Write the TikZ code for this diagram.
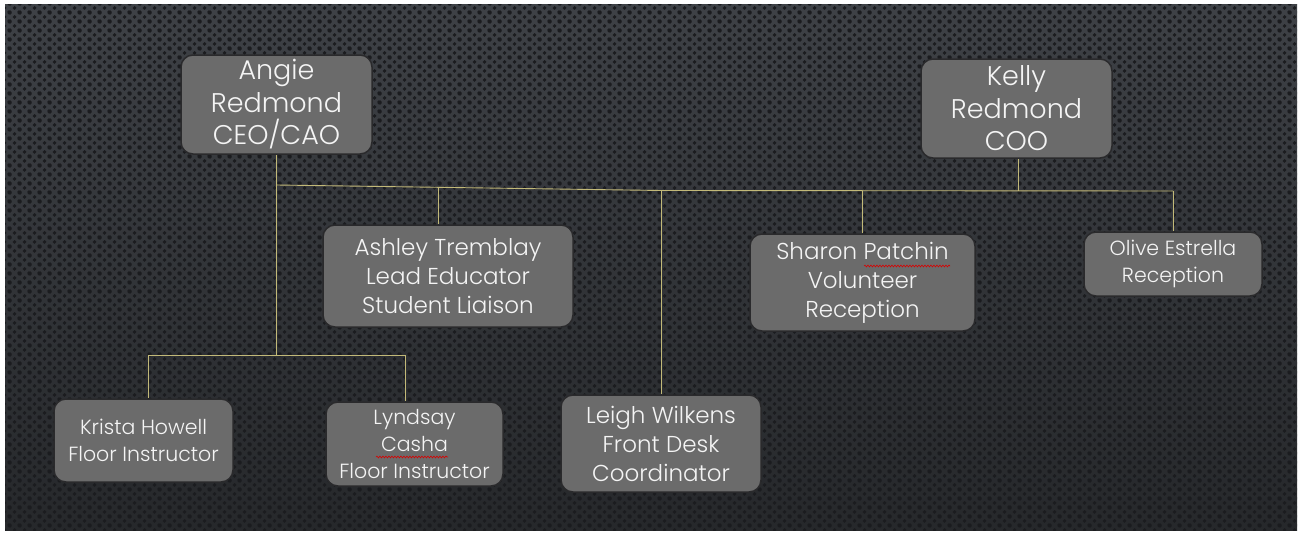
\documentclass[tikz,border=0pt]{standalone}
\usepackage{fontspec}
\setmainfont{Poppins}[UprightFont={* Light}]
\usetikzlibrary{patterns.meta,decorations.pathmorphing}

\definecolor{bgtop}{HTML}{3E4146}
\definecolor{bgbot}{HTML}{26282B}
\definecolor{bgdot}{HTML}{1B1C1F}
\definecolor{boxfill}{HTML}{6B6B6B}
\definecolor{boxline}{HTML}{2A2A2C}
\definecolor{conn}{HTML}{C2B978}
\definecolor{txt}{HTML}{F4F4F4}

\tikzdeclarepattern{
  name=holes,
  type=uncolored,
  bounding box={(0pt,0pt) and (10pt,9pt)},
  tile size={(10pt,9pt)},
  code={
    \fill (0pt,0pt) circle (2.1pt);
    \fill (10pt,0pt) circle (2.1pt);
    \fill (0pt,9pt) circle (2.1pt);
    \fill (10pt,9pt) circle (2.1pt);
    \fill (5pt,4.5pt) circle (2.1pt);
  }
}

\tikzset{
  orgbox/.style={rounded corners=12pt, fill=boxfill, draw=boxline, line width=1.5pt,
    text=txt, align=center, inner sep=0pt},
  bigtext/.style={font=\fontsize{27}{32.5}\selectfont},
  midtext/.style={font=\fontsize{23}{29}\selectfont},
  smalltext/.style={font=\fontsize{20.5}{27}\selectfont},
  link/.style={draw=conn, line width=0.9pt},
  squig/.style={draw=red!85!black, line width=0.6pt, decorate,
    decoration={snake, amplitude=0.9pt, segment length=3pt}}
}

\begin{document}
\begin{tikzpicture}[x=1pt,y=-1pt]
  % page and background
  \fill[white] (0,0) rectangle (1301,533);
  \useasboundingbox (0,0) rectangle (1301,533);
  \shade[top color=bgtop, bottom color=bgbot] (5,4) rectangle (1297,530);
  \fill[pattern=holes, pattern color=bgdot] (5,4) rectangle (1297,530);

  % boxes
  \node[orgbox, bigtext, minimum width=191pt, minimum height=99pt] (angie) at (276.5,104.5) {Angie\\Redmond\\CEO/CAO};
  \node[orgbox, bigtext, minimum width=191pt, minimum height=99pt] (kelly) at (1016.5,108.5) {Kelly\\Redmond\\COO};
  \node[orgbox, midtext, minimum width=250pt, minimum height=102pt] (ashley) at (448,276) {Ashley Tremblay\\Lead Educator\\Student Liaison};
  \node[orgbox, midtext, minimum width=225pt, minimum height=97pt] (sharon) at (862.5,282.5) {Sharon Patchin\\Volunteer\\Reception};
  \node[orgbox, smalltext, minimum width=178pt, minimum height=64pt] (olive) at (1173,264) {Olive Estrella\\Reception};
  \node[orgbox, smalltext, minimum width=179pt, minimum height=83pt] (krista) at (143.5,440.5) {Krista Howell\\Floor Instructor};
  \node[orgbox, smalltext, minimum width=177pt, minimum height=84pt] (lyndsay) at (414.5,444) {Lyndsay\\Casha\\Floor Instructor};
  \node[orgbox, midtext, minimum width=200pt, minimum height=97pt] (leigh) at (661,443.5) {Leigh Wilkens\\Front Desk\\Coordinator};

  % junctions
  \coordinate (j1) at (276.5,185);
  \coordinate (ja) at (438,187.1);
  \coordinate (j2) at (661.5,190.5);
  \coordinate (jk) at (1018,191);
  \coordinate (js) at (862,191);
  \coordinate (jo) at (1173,191);
  \coordinate (jb) at (276.5,355);
  \coordinate (jl) at (148,355);
  \coordinate (jr) at (405,355);

  % connectors
  \draw[link] (angie.south) -- (jb);
  \draw[link] (j1) -- (j2) -- (jo);
  \draw[link] (ja) -- (ja |- ashley.north);
  \draw[link] (j2) -- (j2 |- leigh.north);
  \draw[link] (kelly.south -| jk) -- (jk);
  \draw[link] (js) -- (js |- sharon.north);
  \draw[link] (jo) -- (jo |- olive.north);
  \draw[link] (jl) -- (jr);
  \draw[link] (jl) -- (jl |- krista.north);
  \draw[link] (jr) -- (jr |- lyndsay.north);

  % spell-check underlines
  \draw[squig] (376,457) -- (448,457);
  \draw[squig] (864,266) -- (950,266);
\end{tikzpicture}
\end{document}
